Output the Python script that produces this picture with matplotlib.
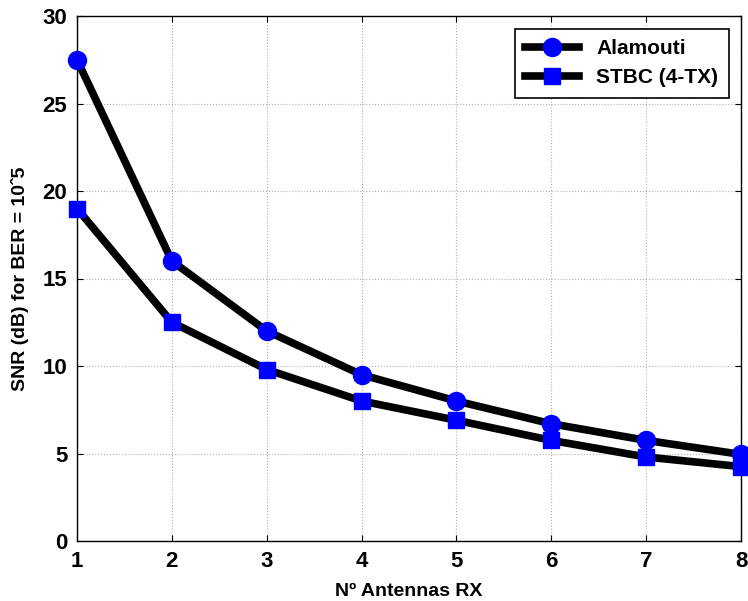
import numpy as np
import matplotlib
matplotlib.use("Agg")
from matplotlib import pyplot as plt

plt.rcParams['font.family'] = ['Liberation Sans', 'DejaVu Sans']
plt.rcParams['font.weight'] = 'bold'

# data
n_rx = [1, 2, 3, 4, 5, 6, 7, 8]
alamouti = [27.5, 16.0, 12.0, 9.5, 8.0, 6.7, 5.75, 4.95]
stbc4 = [19.0, 12.5, 9.8, 8.0, 6.9, 5.75, 4.8, 4.25]
y_ticks = [0, 5, 10, 15, 20, 25, 30]

fig = plt.figure(figsize=(7.48, 6.01), dpi=100)
ax = fig.add_axes([77 / 748, 60 / 601, 664 / 748, 525 / 601])

ax.plot(n_rx, alamouti, color='black', lw=5.5, marker='o', ms=13,
        mfc='blue', mec='blue', label='Alamouti', clip_on=False, zorder=3)
ax.plot(n_rx, stbc4, color='black', lw=5.5, marker='s', ms=12,
        mfc='blue', mec='blue', label='STBC (4-TX)', clip_on=False, zorder=3)

ax.set_xlim(1, 8)
ax.set_ylim(0, 30)
ax.set_xticks(n_rx)
ax.set_yticks(y_ticks)
ax.grid(True, linestyle=':', color='#b0b0b0', lw=0.8)
ax.tick_params(direction='in', labelsize=16, top=True, right=True, length=4, pad=7)
for lab in ax.get_xticklabels() + ax.get_yticklabels():
    lab.set_fontweight('bold')
for s in ax.spines.values():
    s.set_linewidth(1)

ax.set_xlabel('Nº Antennas RX', fontsize=14, fontweight='bold', labelpad=8)
ax.set_ylabel('SNR (dB) for BER = 10ˆ5', fontsize=14, fontweight='bold', labelpad=10)

leg = ax.legend(loc='upper right', fontsize=15, fancybox=False, framealpha=1,
                edgecolor='black', handlelength=2.6, borderaxespad=0.6,
                borderpad=0.5, labelspacing=0.5)
leg.get_frame().set_linewidth(1.2)
for t in leg.get_texts():
    t.set_fontweight('bold')

fig.savefig('out.png', dpi=100)
